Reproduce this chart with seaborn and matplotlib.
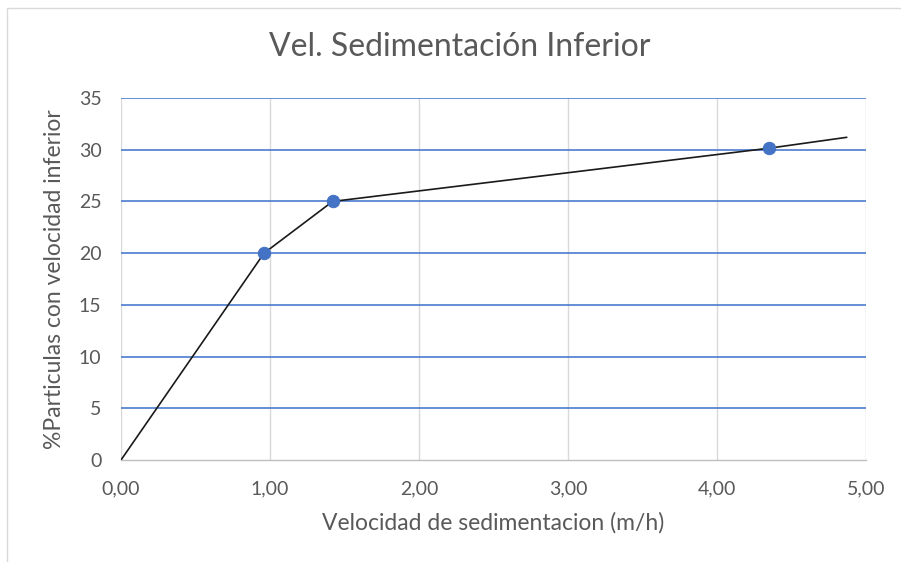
import matplotlib
matplotlib.use('Agg')
import matplotlib.pyplot as plt
import seaborn as sns
import pandas as pd
from matplotlib.ticker import FuncFormatter

# line (black) and measured points (blue markers)
line_vel = [0.0, 0.96, 1.42, 4.35, 4.87]
line_pct = [0.0, 20.0, 25.0, 30.15, 31.2]
pts_vel = [0.96, 1.42, 4.35]
pts_pct = [20.0, 25.0, 30.15]

x_ticks = [0, 1, 2, 3, 4, 5]
y_ticks = [0, 5, 10, 15, 20, 25, 30, 35]

sns.set_style('white')
plt.rcParams['font.family'] = ['Lato', 'DejaVu Sans']

fig = plt.figure(figsize=(9.01, 5.62), dpi=100)
ax = fig.add_axes([0.1343, 0.1815, 0.8270, 0.6441])

line_df = pd.DataFrame({'vel': line_vel, 'pct': line_pct})
pts_df = pd.DataFrame({'vel': pts_vel, 'pct': pts_pct})

sns.lineplot(data=line_df, x='vel', y='pct', ax=ax, color='#1a1a1a', linewidth=1.2,
             sort=False, zorder=3)
sns.scatterplot(data=pts_df, x='vel', y='pct', ax=ax, color='#4472C4', s=80,
                edgecolor='#4472C4', zorder=4)

ax.set_xlim(0, 5)
ax.set_ylim(0, 35)
ax.set_xticks(x_ticks)
ax.set_yticks(y_ticks)
ax.xaxis.set_major_formatter(FuncFormatter(lambda v, p: f'{v:.2f}'.replace('.', ',')))

for t in y_ticks[1:]:
    ax.axhline(t, color='#4a7bd0', linewidth=1.2, zorder=1)
for t in x_ticks:
    ax.axvline(t, color='#d9d9d9', linewidth=1.0, zorder=0)

for s in ['top', 'right', 'left']:
    ax.spines[s].set_visible(False)
ax.spines['bottom'].set_color('#bfbfbf')
ax.spines['bottom'].set_linewidth(1.0)

ax.tick_params(axis='both', length=0, labelsize=14, colors='#595959')
ax.tick_params(axis='y', pad=14)
ax.tick_params(axis='x', pad=15)

ax.set_xlabel('Velocidad de sedimentacion (m/h)', fontsize=16.5, color='#595959', labelpad=10)
ax.set_ylabel('%Particulas con velocidad inferior', fontsize=16.5, color='#595959', labelpad=10)
ax.set_title('Vel. Sedimentación Inferior', fontsize=23, color='#595959', pad=30, x=0.455)

# chart frame like the spreadsheet border
fig.add_artist(plt.Rectangle((0.008, -0.01), 1.2, 0.995, transform=fig.transFigure,
                             fill=False, edgecolor='#d9d9d9', linewidth=1.0))

fig.savefig('out.png', dpi=100)
